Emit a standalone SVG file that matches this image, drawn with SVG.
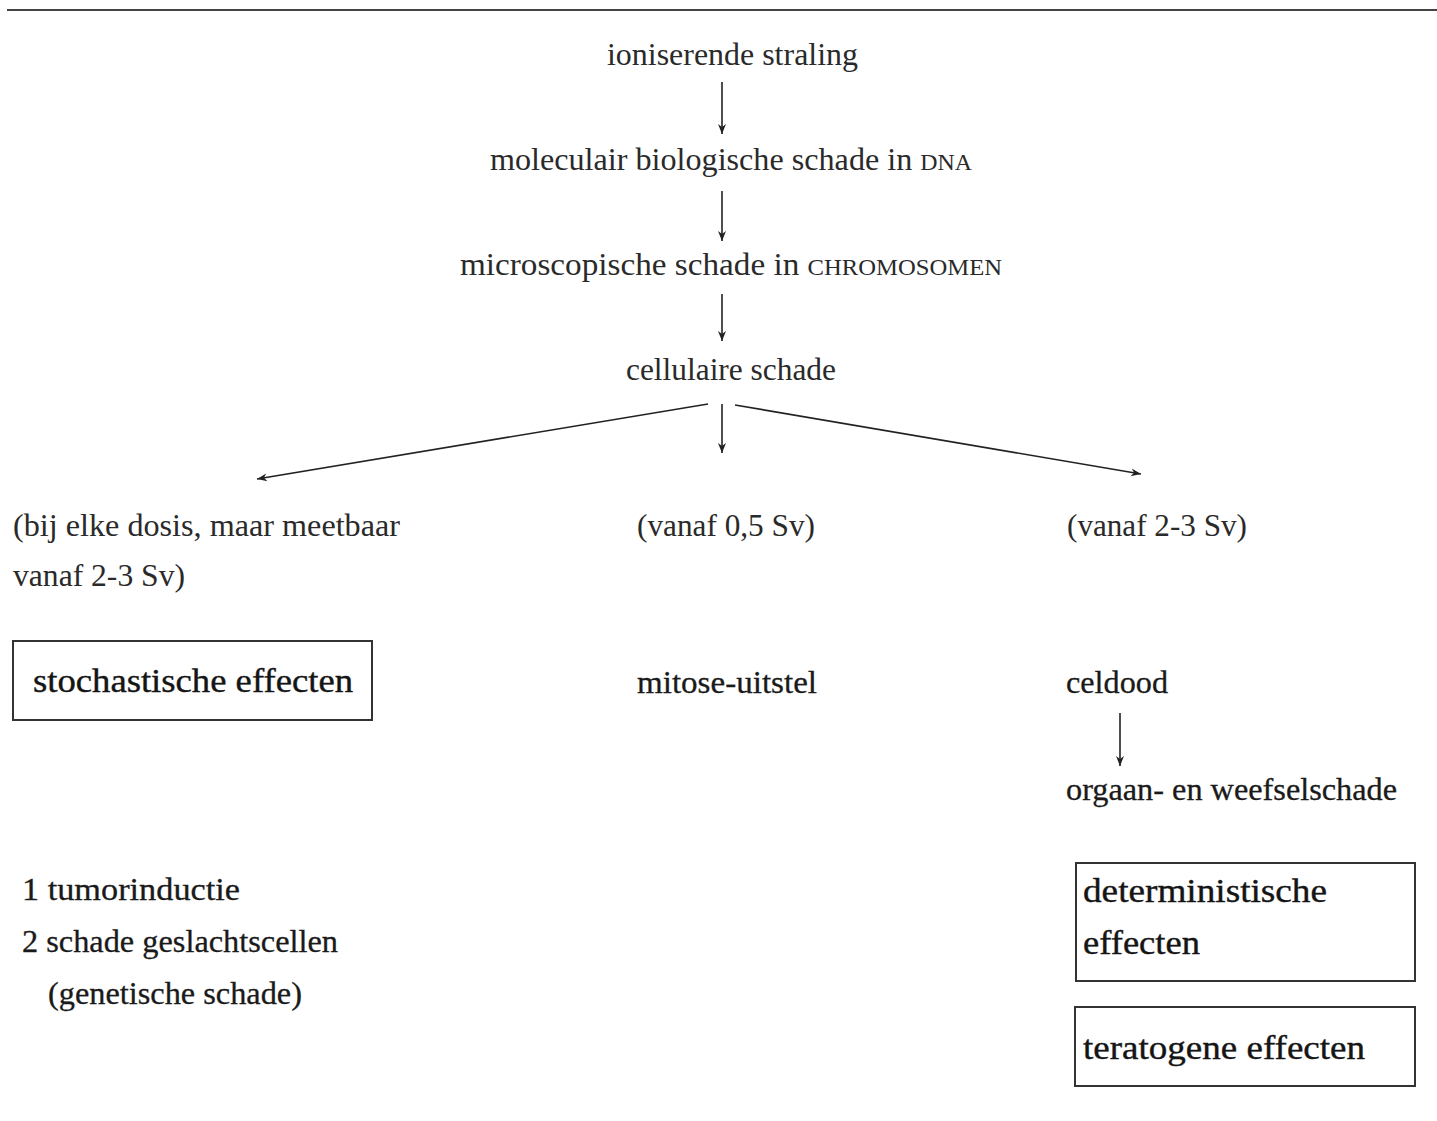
<svg xmlns="http://www.w3.org/2000/svg" width="1437" height="1121" viewBox="0 0 1437 1121">
<defs>
<marker id="ah" viewBox="0 0 10 10" refX="10" refY="5" markerWidth="10" markerHeight="10" markerUnits="userSpaceOnUse" orient="auto">
<path d="M0,1 L10,5 L0,9 L3,5 Z" fill="#222"/>
</marker>
</defs>
<style>
text { font-family: "Liberation Serif", "Times New Roman", serif; fill: #2a2a2a; font-size: 31px; }
.big { font-size: 34px; fill: #151515; stroke: #151515; stroke-width: 0.4; }
.mid { fill: #1a1a1a; stroke: #1a1a1a; stroke-width: 0.3; }
.sc { font-size: 23px; }
.box { fill: none; stroke: #333; stroke-width: 2; }
.con { stroke: #222; stroke-width: 1.6; fill: none; }
</style>
<rect width="1437" height="1121" fill="#ffffff"/>
<line x1="7" y1="10" x2="1437" y2="10" stroke="#444" stroke-width="2"/>

<g id="n-ioniserende">
<text x="607" y="65" textLength="251" lengthAdjust="spacingAndGlyphs">ioniserende straling</text>
</g>
<g id="n-dna">
<text x="490" y="170" textLength="482" lengthAdjust="spacingAndGlyphs">moleculair biologische schade in <tspan class="sc">DNA</tspan></text>
</g>
<g id="n-chromosomen">
<text x="460" y="275" textLength="542" lengthAdjust="spacingAndGlyphs">microscopische schade in <tspan class="sc">CHROMOSOMEN</tspan></text>
</g>
<g id="n-cellulaire">
<text x="626" y="380" textLength="210" lengthAdjust="spacingAndGlyphs">cellulaire schade</text>
</g>

<g id="n-links-dosis">
<text x="13" y="536" textLength="387" lengthAdjust="spacingAndGlyphs">(bij elke dosis, maar meetbaar</text>
<text x="13" y="586" textLength="172" lengthAdjust="spacingAndGlyphs">vanaf 2-3 Sv)</text>
</g>
<g id="n-midden-dosis">
<text x="637" y="536" textLength="178" lengthAdjust="spacingAndGlyphs">(vanaf 0,5 Sv)</text>
</g>
<g id="n-rechts-dosis">
<text x="1067" y="536" textLength="180" lengthAdjust="spacingAndGlyphs">(vanaf 2-3 Sv)</text>
</g>

<g id="n-stochastische">
<rect class="box" x="13" y="641" width="359" height="79"/>
<text class="big" x="33" y="692" textLength="320" lengthAdjust="spacingAndGlyphs">stochastische effecten</text>
</g>
<g id="n-mitose">
<text class="mid" x="637" y="693" textLength="180" lengthAdjust="spacingAndGlyphs">mitose-uitstel</text>
</g>
<g id="n-celdood">
<text class="mid" x="1066" y="693" textLength="102" lengthAdjust="spacingAndGlyphs">celdood</text>
</g>
<g id="n-orgaan">
<text class="mid" x="1066" y="800" textLength="331" lengthAdjust="spacingAndGlyphs">orgaan- en weefselschade</text>
</g>

<g id="n-lijst">
<text class="mid" x="22" y="900" textLength="218" lengthAdjust="spacingAndGlyphs">1 tumorinductie</text>
<text class="mid" x="22" y="952" textLength="316" lengthAdjust="spacingAndGlyphs">2 schade geslachtscellen</text>
<text class="mid" x="48" y="1004" textLength="254" lengthAdjust="spacingAndGlyphs">(genetische schade)</text>
</g>

<g id="n-deterministische">
<rect class="box" x="1076" y="863" width="339" height="118"/>
<text class="big" x="1083" y="902" textLength="244" lengthAdjust="spacingAndGlyphs">deterministische</text>
<text class="big" x="1083" y="954" textLength="117" lengthAdjust="spacingAndGlyphs">effecten</text>
</g>
<g id="n-teratogene">
<rect class="box" x="1075" y="1007" width="340" height="79"/>
<text class="big" x="1083" y="1059" textLength="282" lengthAdjust="spacingAndGlyphs">teratogene effecten</text>
</g>

<g id="connectors">
<line class="con" x1="722" y1="82" x2="722" y2="134" marker-end="url(#ah)"/>
<line class="con" x1="722" y1="191" x2="722" y2="241" marker-end="url(#ah)"/>
<line class="con" x1="722" y1="294" x2="722" y2="341" marker-end="url(#ah)"/>
<line class="con" x1="722" y1="404" x2="722" y2="453" marker-end="url(#ah)"/>
<line class="con" x1="708" y1="404" x2="257" y2="479" marker-end="url(#ah)"/>
<line class="con" x1="735" y1="405" x2="1141" y2="474" marker-end="url(#ah)"/>
<line class="con" x1="1120" y1="713" x2="1120" y2="766" marker-end="url(#ah)"/>
</g>
</svg>
